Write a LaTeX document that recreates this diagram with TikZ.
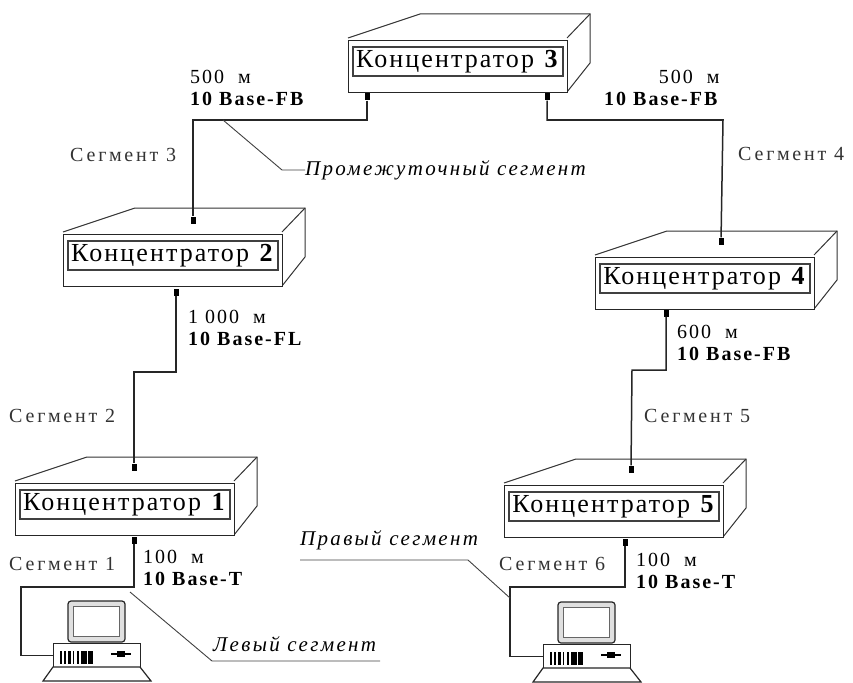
\documentclass[tikz,border=0pt]{standalone}
\usepackage{fontspec}
\setmainfont{Liberation Serif}
\newfontfamily\hubfont[LetterSpace=8]{Liberation Serif}
\newfontfamily\segfont[LetterSpace=14]{Liberation Serif}
\newfontfamily\distfont[LetterSpace=10]{Liberation Serif}
\newfontfamily\notefont[LetterSpace=11]{Liberation Serif}
\tikzset{
  hubfront/.style={draw=black!85,line width=1.4pt,fill=white,anchor=north west,inner sep=0pt,minimum width=219pt,minimum height=52pt},
  hubframe/.style={draw=black!75,line width=2pt,anchor=north west,inner sep=0pt,minimum width=210pt,minimum height=29pt,font=\hubfont\fontsize{26}{27}\selectfont},
  hubedge/.style={draw=black!80,line width=1pt},
  port/.style={fill=black,inner sep=0pt,minimum width=5pt,minimum height=7pt},
  wire/.style={draw=black!85,line width=1.5pt},
  leader/.style={draw=black!75,line width=0.9pt},
  seglabel/.style={anchor=west,inner sep=0pt,text=black!80,font=\segfont\fontsize{20}{21}\selectfont},
  distlabel/.style={anchor=west,inner sep=0pt,font=\distfont\fontsize{20}{22}\selectfont},
  notelabel/.style={anchor=west,inner sep=0pt,font=\notefont\itshape\fontsize{21}{22}\selectfont},
  hubbox/.pic={
    \draw[hubedge] (0,-2) -- (72,-26) -- (242,-26) -- (242,23) -- (219,52);
    \draw[hubedge] (242,-26) -- (219,-2);
    \node[hubfront] (front) at (0,0) {};
    \node[hubframe] (frame) at (4,6) {#1};
  },
  computer/.pic={
    \draw[draw=black!85,line width=1.2pt,rounded corners=3pt,fill=black!12] (15,-42) rectangle (72,-1);
    \draw[draw=black!60,line width=0.8pt,fill=white] (20,-37) rectangle (66,-7);
    \node[draw=black!85,line width=1.2pt,fill=white,anchor=north west,inner sep=0pt,minimum width=87pt,minimum height=24pt] (base) at (0,0) {};
    \foreach \barx/\barw in {7/2,11/2,15/3,20/1,24/2,28/6,35/5}
      \fill[black] (\barx,8) rectangle ++(\barw,13);
    \fill[black] (58,10) rectangle (78,12);
    \fill[black] (64,8) rectangle (72,14);
    \draw[draw=black!85,line width=1.2pt,fill=white] (0,24) -- (87,24) -- (98,38) -- (-10,38) -- cycle;
  }
}
\begin{document}
\begin{tikzpicture}[x=1pt,y=-1pt]
  \useasboundingbox (0,0) rectangle (853,682);
  \pic (hub3) at (348,40) {hubbox={Концентратор \textbf{3}}};
  \pic (hub2) at (63,234) {hubbox={Концентратор \textbf{2}}};
  \pic (hub4) at (595,257) {hubbox={Концентратор \textbf{4}}};
  \pic (hub1) at (15,483) {hubbox={Концентратор \textbf{1}}};
  \pic (hub5) at (504,485) {hubbox={Концентратор \textbf{5}}};
  \pic (pc1) at (53,643) {computer};
  \pic (pc2) at (543,644) {computer};
  \node[port] (port3l) at (367,97) {};
  \node[port] (port3r) at (547,97) {};
  \node[port] (port2t) at (193,220) {};
  \node[port] (port2b) at (176,292) {};
  \node[port] (port4t) at (721,241) {};
  \node[port] (port4b) at (666,313) {};
  \node[port] (port1t) at (134,467) {};
  \node[port] (port1b) at (134,540) {};
  \node[port] (port5t) at (631,469) {};
  \node[port] (port5b) at (625,542) {};
  \coordinate (bend3) at (193,120);
  \coordinate (bend4) at (723,120);
  \coordinate (bend2) at (134,372);
  \coordinate (bend5) at (632,370);
  \coordinate (bend1) at (21,587);
  \coordinate (bend6) at (510,587);
  \draw[wire] (port3l) |- (bend3) -- (port2t);
  \draw[wire] (port3r) |- (bend4) -- (port4t);
  \draw[wire] (port2b) |- (bend2) -- (port1t);
  \draw[wire] (port4b) |- (bend5) -- (port5t);
  \draw[wire] (port1b) |- (bend1) |- (pc1base);
  \draw[wire] (port5b) |- (bend6) |- (pc2base);
  \node[distlabel,align=left] (dist3l) at (190,88) {500\ \ м\\\textbf{10 Base-FB}};
  \node[distlabel,align=right] (dist3r) at (604,88) {500\ \ м\\\textbf{10 Base-FB}};
  \node[distlabel,align=left] (dist2) at (188,328) {1 000\ \ м\\\textbf{10 Base-FL}};
  \node[distlabel,align=left] (dist4) at (677,343) {600\ \ м\\\textbf{10 Base-FB}};
  \node[distlabel,align=left] (dist1) at (143,568) {100\ \ м\\\textbf{10 Base-T}};
  \node[distlabel,align=left] (dist5) at (636,571) {100\ \ м\\\textbf{10 Base-T}};
  \node[seglabel] (seg1) at (9,564) {Сегмент 1};
  \node[seglabel] (seg2) at (9,416) {Сегмент 2};
  \node[seglabel] (seg3) at (70,155) {Сегмент 3};
  \node[seglabel] (seg4) at (738,154) {Сегмент 4};
  \node[seglabel] (seg5) at (644,416) {Сегмент 5};
  \node[seglabel] (seg6) at (499,564) {Сегмент 6};
  \node[notelabel] (notemid) at (305,170) {Промежуточный сегмент};
  \node[notelabel] (noteleft) at (213,644) {Левый сегмент};
  \node[notelabel] (noteright) at (300,540) {Правый сегмент};
  \coordinate (midstart) at (223,120);
  \coordinate (midbend) at (282,170);
  \coordinate (leftstart) at (130,592);
  \coordinate (leftbend) at (212,661);
  \coordinate (leftend) at (380,661);
  \coordinate (rightstart) at (300,560);
  \coordinate (rightbend) at (468,560);
  \coordinate (rightend) at (510,598);
  \draw[leader] (midstart) -- (midbend) -- (notemid.west);
  \draw[leader] (leftstart) -- (leftbend) -- (leftend);
  \draw[leader] (rightstart) -- (rightbend) -- (rightend);
\end{tikzpicture}
\end{document}
